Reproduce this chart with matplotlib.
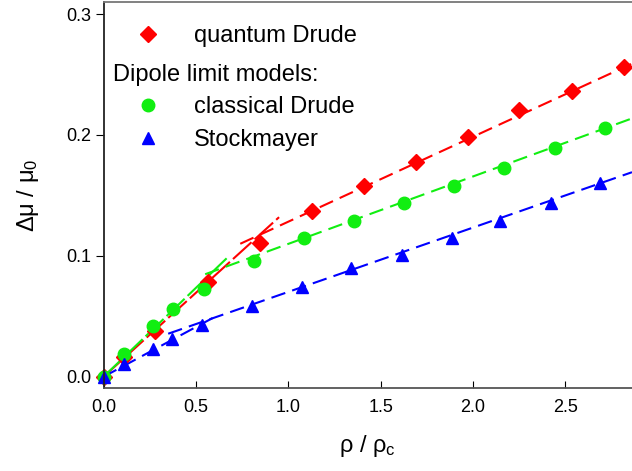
import numpy as np
import matplotlib
matplotlib.use('Agg')
import matplotlib.pyplot as plt

plt.rcParams['font.family'] = ['Liberation Sans', 'DejaVu Sans']
plt.rcParams['mathtext.fontset'] = 'custom'
plt.rcParams['mathtext.rm'] = 'Liberation Sans'
plt.rcParams['mathtext.default'] = 'regular'

## Data
qd_x = [0.0, 0.113, 0.28, 0.563, 0.845, 1.127, 1.408, 1.689, 1.97, 2.251, 2.535, 2.819]
qd_y = [0.0, 0.016, 0.038, 0.078, 0.111, 0.137, 0.158, 0.178, 0.198, 0.221, 0.236, 0.256]

cd_x = [0.0, 0.11, 0.27, 0.376, 0.542, 0.813, 1.084, 1.354, 1.624, 1.895, 2.17, 2.441, 2.716]
cd_y = [0.0, 0.019, 0.042, 0.056, 0.073, 0.096, 0.1146, 0.1287, 0.1435, 0.158, 0.173, 0.189, 0.2056]

st_x = [0.0, 0.11, 0.268, 0.37, 0.532, 0.803, 1.073, 1.338, 1.614, 1.884, 2.143, 2.419, 2.689]
st_y = [0.0, 0.0105, 0.023, 0.031, 0.0427, 0.0584, 0.0741, 0.0898, 0.1005, 0.1146, 0.1287, 0.1435, 0.16]

# fitted lines (low / high density), end points
qd_fit_lo_x = [0.0, 0.95]
qd_fit_lo_y = [0.0, 0.132]
qd_fit_hi_x = [0.74, 2.86]
qd_fit_hi_y = [0.110, 0.259]

cd_fit_lo_x = [0.0, 0.68]
cd_fit_lo_y = [0.0, 0.1]
cd_fit_hi_x = [0.55, 2.86]
cd_fit_hi_y = [0.0848, 0.2137]

st_fit_lo_x = [0.0, 0.62]
st_fit_lo_y = [0.0, 0.051]
st_fit_hi_x = [0.35, 2.86]
st_fit_hi_y = [0.0356, 0.1692]

red = '#ff0000'
green = '#11ee11'
blue = '#0000ff'

fig = plt.figure(figsize=(6.32, 4.71), dpi=100)
ax = fig.add_axes([0.1638, 0.1762, 0.8362, 0.8196])

dash = (7, 3.5)
ax.plot(qd_fit_lo_x, qd_fit_lo_y, '--', color=red, lw=1.5, dashes=(12, 2))
ax.plot(qd_fit_hi_x, qd_fit_hi_y, '--', color=red, lw=1.5, dashes=dash)
ax.plot(cd_fit_lo_x, cd_fit_lo_y, '--', color=green, lw=1.5, dashes=(12, 2))
ax.plot(cd_fit_hi_x, cd_fit_hi_y, '--', color=green, lw=1.5, dashes=dash)
ax.plot(st_fit_lo_x, st_fit_lo_y, '--', color=blue, lw=1.5, dashes=dash)
ax.plot(st_fit_hi_x, st_fit_hi_y, '--', color=blue, lw=1.5, dashes=dash)

h1, = ax.plot(qd_x, qd_y, 'D', color=red, ms=8, ls='none', clip_on=False)
h2, = ax.plot(cd_x, cd_y, 'o', color=green, ms=9, ls='none', clip_on=False)
h3, = ax.plot(st_x, st_y, '^', color=blue, ms=8, ls='none', clip_on=False)

leg_kw = dict(loc='upper left', frameon=False, fontsize=17, handlelength=1.5,
              handletextpad=1.2, labelspacing=0.45, borderpad=0, borderaxespad=0)
leg1 = ax.legend([h1], ['quantum Drude'], bbox_to_anchor=(0.05, 0.94), **leg_kw)
ax.add_artist(leg1)
ax.legend([h2, h3], ['classical Drude', 'Stockmayer'], bbox_to_anchor=(0.05, 0.756), **leg_kw)
ax.text(0.018, 0.812, 'Dipole limit models:', transform=ax.transAxes,
        fontsize=17, va='center', ha='left')

ax.set_xlim(0, 2.86)
ax.set_ylim(-0.0093, 0.31)
ax.set_xticks([0.0, 0.5, 1.0, 1.5, 2.0, 2.5])
ax.set_yticks([0.0, 0.1, 0.2, 0.3])
ax.set_xticklabels(['0.0', '0.5', '1.0', '1.5', '2.0', '2.5'])
ax.set_yticklabels(['0.0', '0.1', '0.2', '0.3'])
ax.tick_params(axis='x', direction='in', length=5, labelsize=13, pad=8)
ax.tick_params(axis='y', direction='out', length=6, labelsize=13, pad=3)

ax.spines['right'].set_visible(False)
ax.spines['left'].set_color('#222222')
ax.spines['top'].set_color('#777777')
ax.spines['bottom'].set_color('#555555')
for s in ax.spines.values():
    s.set_linewidth(1.3)

ax.set_xlabel('ρ / ρ$_c$', fontsize=17, labelpad=12)
ax.set_ylabel('Δμ / μ$_0$', fontsize=17, labelpad=18)

plt.savefig('out.png', dpi=100)
